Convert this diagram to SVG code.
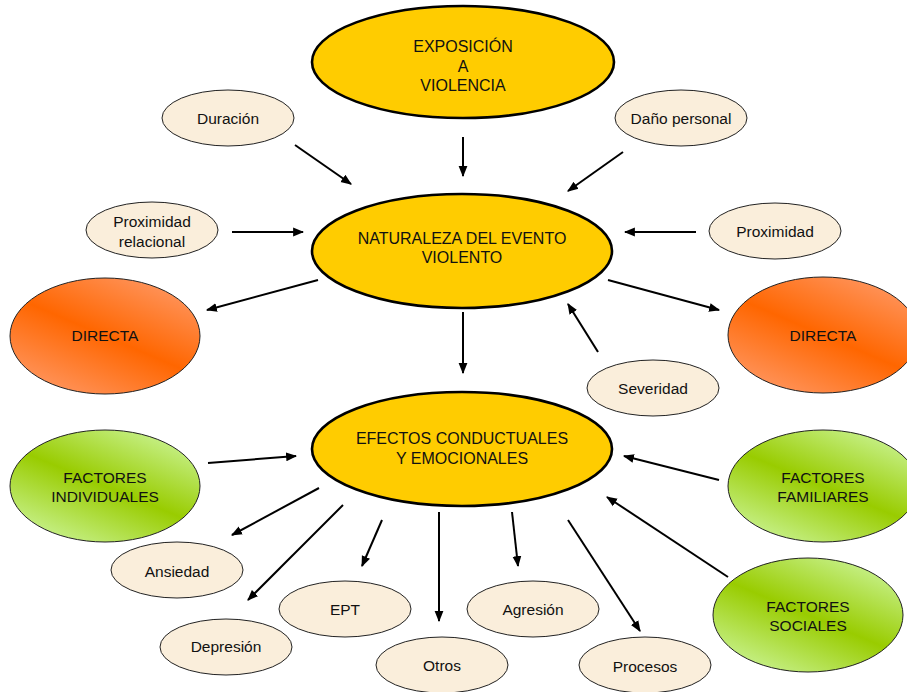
<svg xmlns="http://www.w3.org/2000/svg" width="907" height="692" viewBox="0 0 907 692">
<defs>
<style>
text{font-family:"Liberation Sans",Arial,sans-serif;font-size:15.5px;fill:#111;text-anchor:middle}
.main{fill:#FFCC00;stroke:#000;stroke-width:2.6}
.main-t{font-size:16px}
.small{fill:#FAEEDB;stroke:#222;stroke-width:1}
.org{fill:url(#gOrange);stroke:#222;stroke-width:1}
.grn{fill:url(#gGreen);stroke:#222;stroke-width:1}
.arr{stroke:#000;stroke-width:2;fill:none;marker-end:url(#ah)}
</style>
<marker id="ah" viewBox="0 0 10 10" refX="9" refY="5" markerWidth="11" markerHeight="11" markerUnits="userSpaceOnUse" orient="auto">
<path d="M0,1 L10,5 L0,9 Z" fill="#000"/>
</marker>
<linearGradient id="gOrange" x1="0.15" y1="1" x2="0.85" y2="0" spreadMethod="reflect">
<stop offset="0" stop-color="#FF9966"/>
<stop offset="0.5" stop-color="#FF6600"/>
<stop offset="1" stop-color="#FF9966"/>
</linearGradient>
<linearGradient id="gGreen" x1="0.15" y1="1" x2="0.85" y2="0">
<stop offset="0" stop-color="#CCF59A"/>
<stop offset="0.5" stop-color="#99CC00"/>
<stop offset="1" stop-color="#CCF59A"/>
</linearGradient>
</defs>
<rect width="907" height="692" fill="#fff"/>

<g id="connectors">
<line class="arr" x1="463" y1="137" x2="463" y2="176"/>
<line class="arr" x1="295" y1="145" x2="351" y2="184"/>
<line class="arr" x1="623" y1="152" x2="568" y2="191"/>
<line class="arr" x1="232" y1="232" x2="303" y2="232"/>
<line class="arr" x1="696" y1="232" x2="625" y2="232"/>
<line class="arr" x1="318" y1="280" x2="207" y2="310"/>
<line class="arr" x1="608" y1="280" x2="719" y2="310"/>
<line class="arr" x1="598" y1="352" x2="568" y2="304"/>
<line class="arr" x1="463" y1="312" x2="463" y2="373"/>
<line class="arr" x1="208" y1="463" x2="296" y2="456"/>
<line class="arr" x1="719" y1="480" x2="624" y2="456"/>
<line class="arr" x1="728" y1="577" x2="607" y2="497"/>
<line class="arr" x1="319" y1="488" x2="232" y2="535"/>
<line class="arr" x1="343" y1="505" x2="248" y2="600"/>
<line class="arr" x1="382" y1="520" x2="362" y2="566"/>
<line class="arr" x1="439" y1="512" x2="439" y2="621"/>
<line class="arr" x1="512" y1="512" x2="518" y2="566"/>
<line class="arr" x1="568" y1="520" x2="640" y2="631"/>
</g>

<g id="exposicion">
<ellipse class="main" cx="463" cy="62" rx="151" ry="56"/>
<text class="main-t" x="463" y="52">EXPOSICIÓN</text>
<text class="main-t" x="463" y="72">A</text>
<text class="main-t" x="463" y="91">VIOLENCIA</text>
</g>
<g id="duracion">
<ellipse class="small" cx="228" cy="118" rx="66" ry="28"/>
<text x="228" y="124">Duración</text>
</g>
<g id="dano">
<ellipse class="small" cx="681" cy="118" rx="66" ry="28"/>
<text x="681" y="124">Daño personal</text>
</g>
<g id="prox-relacional">
<ellipse class="small" cx="152" cy="230" rx="66" ry="28"/>
<text x="152" y="227">Proximidad</text>
<text x="152" y="247">relacional</text>
</g>
<g id="proximidad">
<ellipse class="small" cx="775" cy="231" rx="66" ry="28"/>
<text x="775" y="237">Proximidad</text>
</g>
<g id="naturaleza">
<ellipse class="main" cx="462" cy="251" rx="150" ry="57"/>
<text class="main-t" x="462" y="244">NATURALEZA DEL EVENTO</text>
<text class="main-t" x="462" y="263">VIOLENTO</text>
</g>
<g id="directa-izq">
<ellipse class="org" cx="105" cy="336" rx="95" ry="58"/>
<text x="105" y="341">DIRECTA</text>
</g>
<g id="directa-der">
<ellipse class="org" cx="823" cy="335" rx="95" ry="58"/>
<text x="823" y="341">DIRECTA</text>
</g>
<g id="severidad">
<ellipse class="small" cx="653" cy="388" rx="66" ry="28"/>
<text x="653" y="394">Severidad</text>
</g>
<g id="efectos">
<ellipse class="main" cx="462" cy="449" rx="150" ry="57"/>
<text class="main-t" x="462" y="444">EFECTOS CONDUCTUALES</text>
<text class="main-t" x="462" y="464">Y EMOCIONALES</text>
</g>
<g id="f-individuales">
<ellipse class="grn" cx="105" cy="486" rx="95" ry="56"/>
<text x="105" y="483">FACTORES</text>
<text x="105" y="502">INDIVIDUALES</text>
</g>
<g id="f-familiares">
<ellipse class="grn" cx="823" cy="486" rx="95" ry="56"/>
<text x="823" y="483">FACTORES</text>
<text x="823" y="502">FAMILIARES</text>
</g>
<g id="f-sociales">
<ellipse class="grn" cx="808" cy="615" rx="95" ry="57"/>
<text x="808" y="612">FACTORES</text>
<text x="808" y="631">SOCIALES</text>
</g>
<g id="ansiedad">
<ellipse class="small" cx="177" cy="570" rx="66" ry="28"/>
<text x="177" y="577">Ansiedad</text>
</g>
<g id="depresion">
<ellipse class="small" cx="226" cy="647" rx="66" ry="28"/>
<text x="226" y="652">Depresión</text>
</g>
<g id="ept">
<ellipse class="small" cx="345" cy="609" rx="66" ry="28"/>
<text x="345" y="615">EPT</text>
</g>
<g id="otros">
<ellipse class="small" cx="442" cy="665" rx="66" ry="28"/>
<text x="442" y="671">Otros</text>
</g>
<g id="agresion">
<ellipse class="small" cx="533" cy="609" rx="66" ry="28"/>
<text x="533" y="615">Agresión</text>
</g>
<g id="procesos">
<ellipse class="small" cx="645" cy="665" rx="66" ry="28"/>
<text x="645" y="672">Procesos</text>
</g>
</svg>
